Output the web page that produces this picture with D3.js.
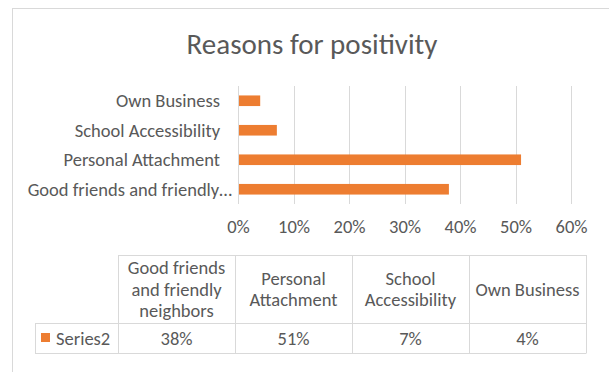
<!DOCTYPE html>
<html>
<head>
<meta charset="utf-8">
<script src="https://cdn.jsdelivr.net/npm/d3@7/dist/d3.min.js"></script>
<style>
  body { margin: 0; background: #fff; }
  svg text { font-family: Carlito, Calibri, Lato, sans-serif; fill: #595959; }
</style>
</head>
<body>
<div id="chart"></div>
<script>
var categories = ["Good friends and friendly neighbors", "Personal Attachment", "School Accessibility", "Own Business"],
seriesName = "Series2",
seriesValues = [0.38, 0.51, 0.07, 0.04],
xTicks = [0, 0.1, 0.2, 0.3, 0.4, 0.5, 0.6],
title = "Reasons for positivity";

var width = 609, height = 372,
orange = "#ED7D31",
lineColor = "#d9d9d9",
fontSize = "18.5px";

var svg = d3.select("#chart").append("svg")
.attr("width", width)
.attr("height", height);

// chart border
svg.append("rect")
.attr("x", 12.5).attr("y", 8.5)
.attr("width", 620).attr("height", 400)
.attr("fill", "none")
.attr("stroke", lineColor);

svg.append("text")
.attr("x", 312).attr("y", 54)
.attr("text-anchor", "middle")
.style("font-size", "29px")
.text(title);

var x = d3.scaleLinear().domain([0, 0.6]).range([238, 571]);
var y = d3.scaleBand()
.domain(categories.slice().reverse())
.range([86, 204])
.paddingInner(0.64)
.paddingOuter(0.32);

// gridlines
svg.append("g").selectAll("line")
.data(xTicks)
.enter().append("line")
.attr("x1", function(d){ return Math.round(x(d)) + 0.5; })
.attr("x2", function(d){ return Math.round(x(d)) + 0.5; })
.attr("y1", 86).attr("y2", 204)
.attr("stroke", lineColor);

// bars
svg.append("g").selectAll("rect")
.data(categories)
.enter().append("rect")
.attr("x", x(0) + 1)
.attr("y", function(d){ return y(d); })
.attr("width", function(d, i){ return x(seriesValues[i]) - x(0) - 1; })
.attr("height", y.bandwidth())
.attr("fill", orange);

// x axis labels
var xAxis = d3.axisBottom(x)
.tickValues(xTicks)
.tickFormat(d3.format(".0%"))
.tickSize(0)
.tickPadding(0);

var xg = svg.append("g")
.attr("transform", "translate(0,220)")
.call(xAxis);
xg.select(".domain").remove();
xg.selectAll("text").style("font-size", fontSize).attr("fill", "#595959");

// category labels, truncated like Excel does (ellipsis hangs past the edge)
function fitText(sel, maxW){
  sel.each(function(d){
    var t = d3.select(this), s = d;
    t.text(s);
    while (this.getComputedTextLength() > maxW && s.length > 1) {
      s = s.slice(0, -1).replace(/\s+$/, "");
      t.text(s + "…");
    }
    if (s !== d) t.attr("x", +t.attr("x") + 12);
  });
}

svg.append("g").selectAll("text")
.data(categories)
.enter().append("text")
.attr("x", 220)
.attr("y", function(d){ return y(d) + y.bandwidth() / 2; })
.attr("dy", "0.35em")
.attr("text-anchor", "end")
.style("font-size", fontSize)
.call(fitText, 208);

// data table
var colX = d3.scaleBand().domain(categories).range([118, 586]);
var headTop = 255, rowTop = 323.5, rowBottom = 353.5, tableLeft = 35;

var table = svg.append("g").attr("class", "table");

table.append("line")
.attr("x1", 118).attr("x2", 586)
.attr("y1", headTop + 0.5).attr("y2", headTop + 0.5)
.attr("stroke", lineColor);
table.append("line")
.attr("x1", tableLeft).attr("x2", 586)
.attr("y1", rowTop).attr("y2", rowTop)
.attr("stroke", lineColor);
table.append("line")
.attr("x1", tableLeft).attr("x2", 586)
.attr("y1", rowBottom).attr("y2", rowBottom)
.attr("stroke", lineColor);
table.append("line")
.attr("x1", tableLeft + 0.5).attr("x2", tableLeft + 0.5)
.attr("y1", rowTop).attr("y2", rowBottom)
.attr("stroke", lineColor);
table.selectAll(".vline")
.data(categories.concat(["end"]))
.enter().append("line")
.attr("class", "vline")
.attr("x1", function(d){ return (d === "end" ? 586 : colX(d)) + 0.5; })
.attr("x2", function(d){ return (d === "end" ? 586 : colX(d)) + 0.5; })
.attr("y1", headTop).attr("y2", rowBottom)
.attr("stroke", lineColor);

// header cells with wrapped text
var lineH = 21.5;
table.selectAll(".head")
.data(categories)
.enter().append("text")
.attr("class", "head")
.attr("text-anchor", "middle")
.style("font-size", fontSize)
.each(function(d){
  var t = d3.select(this), words = d.split(" "), lines = [], cur = "";
  words.forEach(function(w){
    var test = cur ? cur + " " + w : w;
    t.text(test);
    if (this.getComputedTextLength() > 112 && cur) { lines.push(cur); cur = w; }
    else cur = test;
  }, this);
  lines.push(cur);
  t.text(null);
  var cx = colX(d) + colX.bandwidth() / 2,
  cy = (headTop + rowTop) / 2 - (lines.length - 1) * lineH / 2;
  lines.forEach(function(l, i){
    t.append("tspan").attr("x", cx).attr("y", cy + i * lineH).attr("dy", "0.35em").text(l);
  });
});

// values row
table.selectAll(".val")
.data(categories)
.enter().append("text")
.attr("class", "val")
.attr("x", function(d){ return colX(d) + colX.bandwidth() / 2; })
.attr("y", (rowTop + rowBottom) / 2)
.attr("dy", "0.35em")
.attr("text-anchor", "middle")
.style("font-size", fontSize)
.text(function(d, i){ return d3.format(".0%")(seriesValues[i]); });

table.append("rect")
.attr("x", 41).attr("y", 333)
.attr("width", 9).attr("height", 9)
.attr("fill", orange);
table.append("text")
.attr("x", 56).attr("y", (rowTop + rowBottom) / 2)
.attr("dy", "0.35em")
.style("font-size", fontSize)
.text(seriesName);
</script>
</body>
</html>
